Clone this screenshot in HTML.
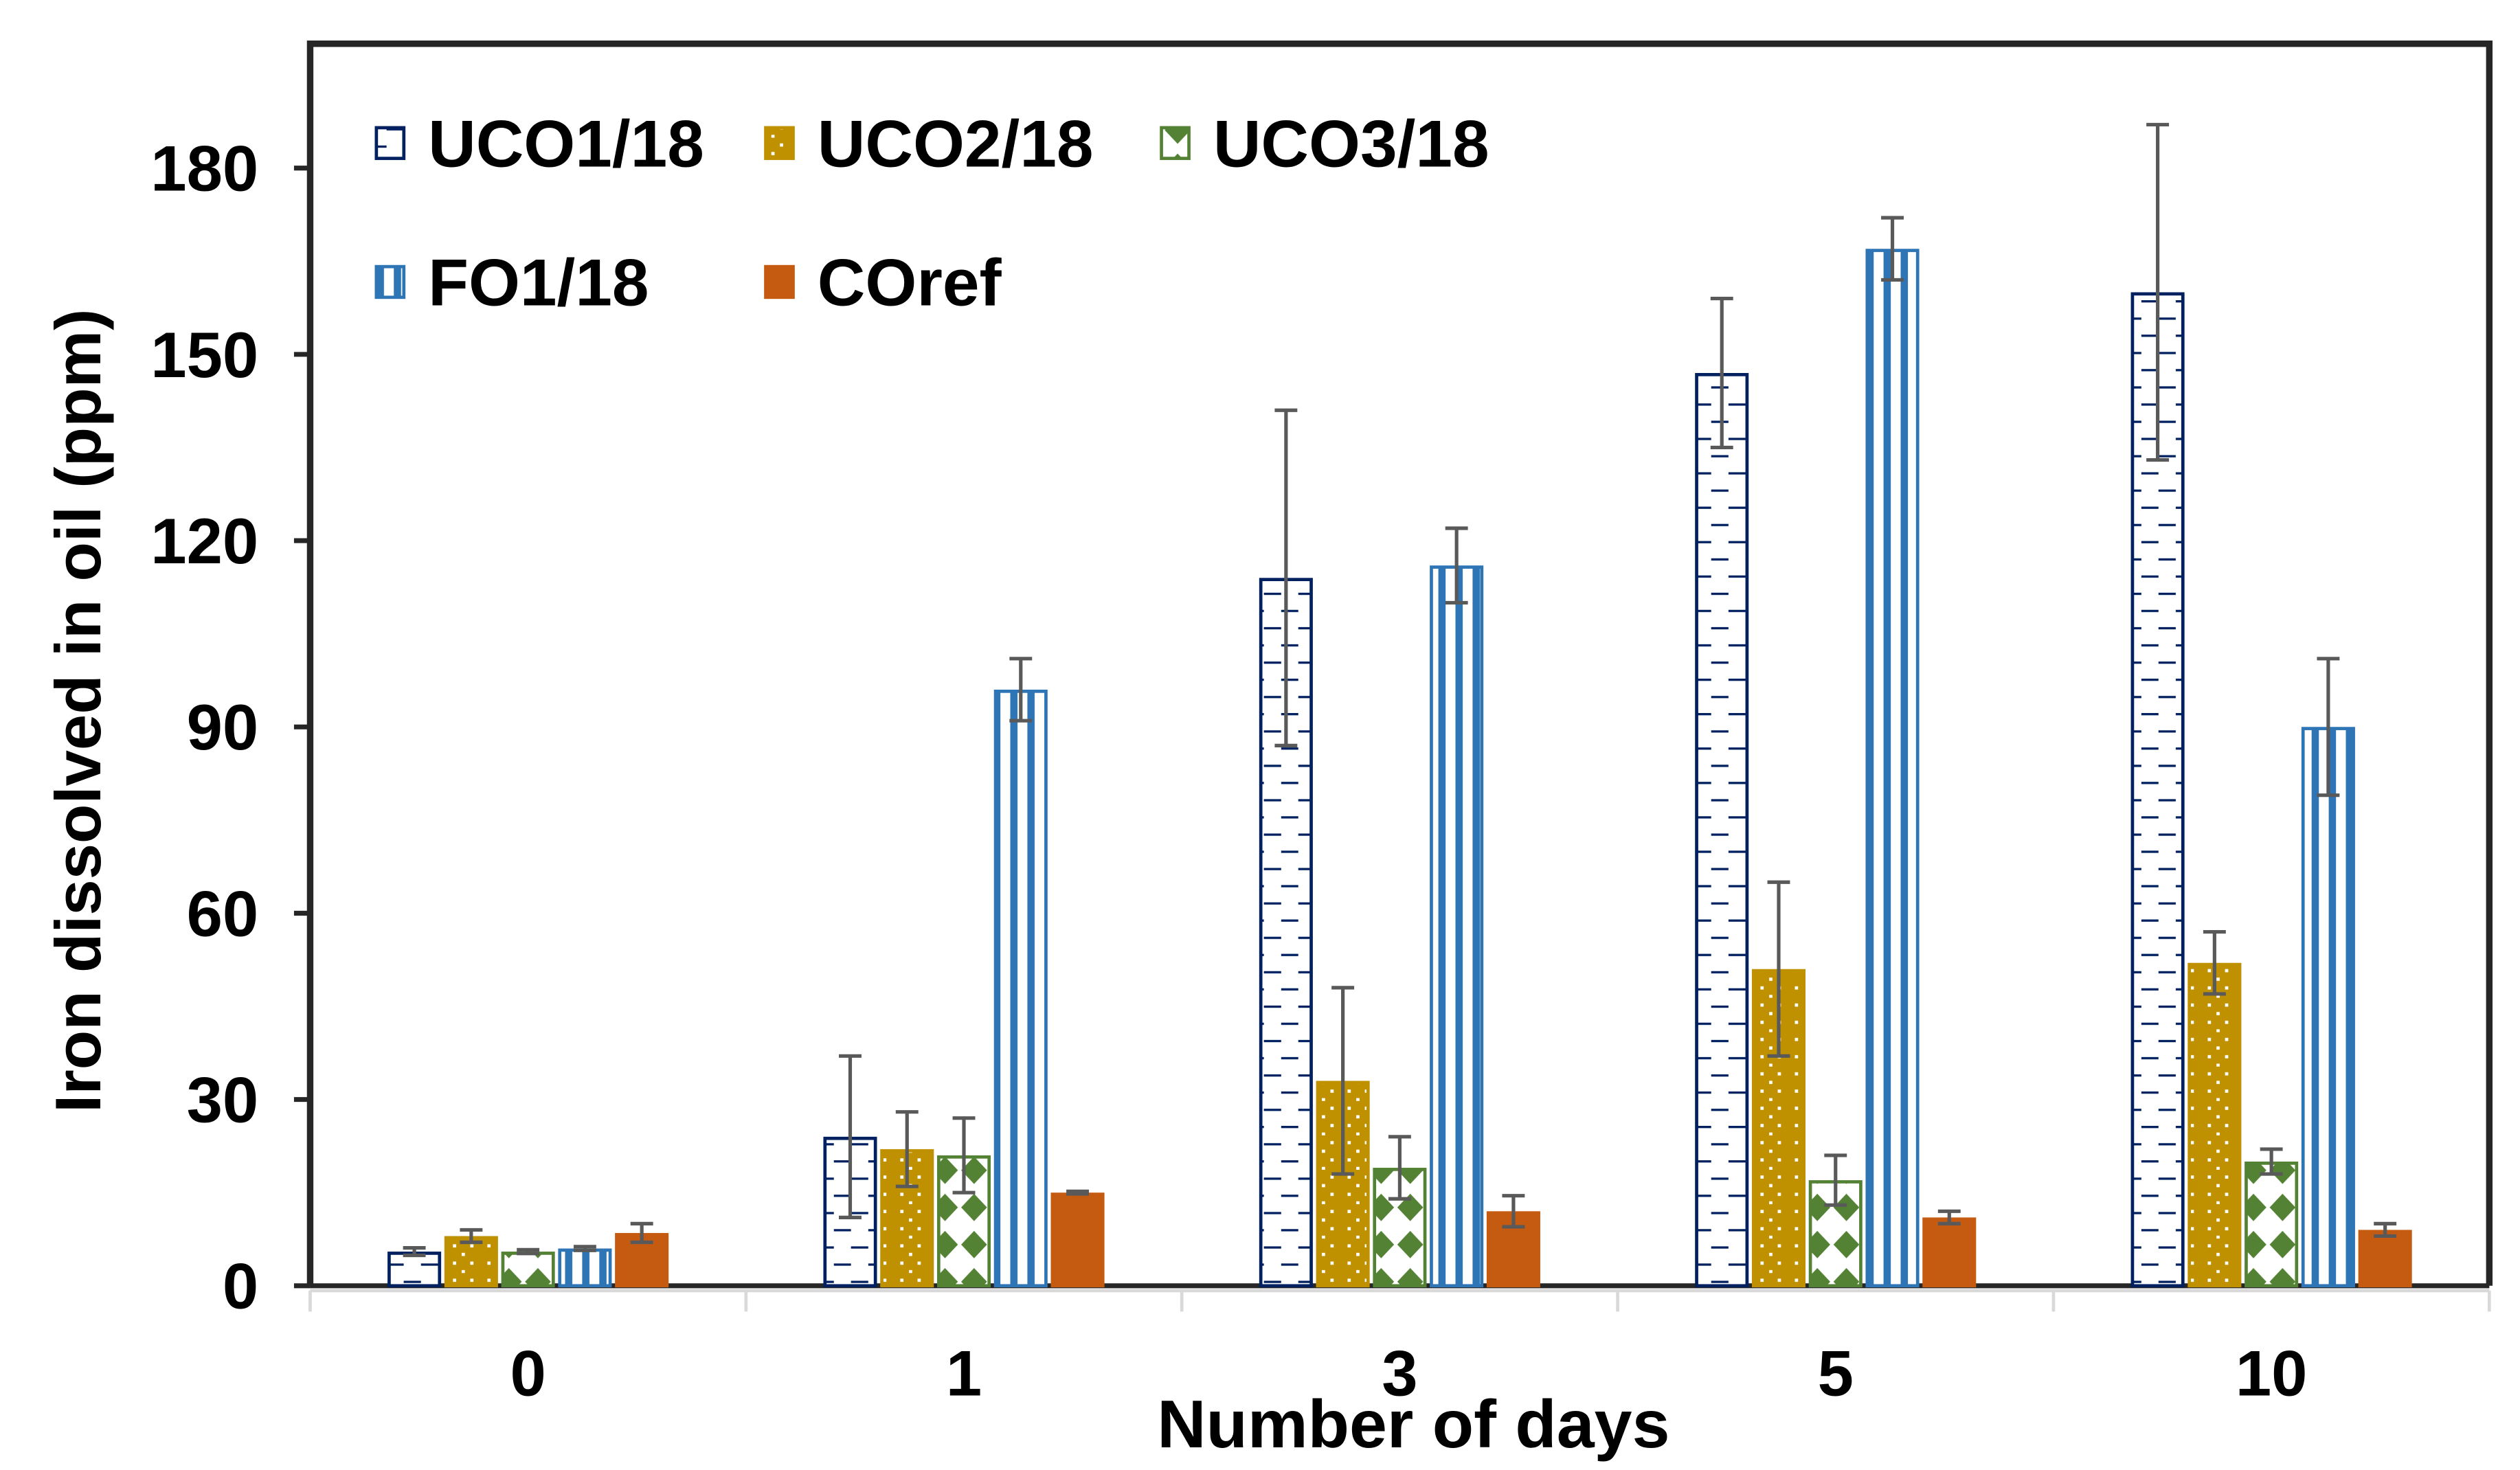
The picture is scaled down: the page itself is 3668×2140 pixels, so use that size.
<!DOCTYPE html>
<html><head><meta charset="utf-8"><style>
html,body{margin:0;padding:0;background:#fff;}
svg{display:block;font-family:"Liberation Sans",Arial,sans-serif;font-weight:bold;}
</style></head><body>
<svg id="chart" width="3668" height="2140" viewBox="0 0 1560 910" xmlns="http://www.w3.org/2000/svg">
<defs>
<pattern id="pDash" patternUnits="userSpaceOnUse" width="21.3" height="21.3">
<rect width="21.3" height="21.3" fill="#fff"/>
<rect x="0" y="4.8" width="5" height="1.4" fill="#002060"/>
<rect x="15.6" y="4.8" width="6" height="1.4" fill="#002060"/>
<rect x="5" y="15.4" width="10.6" height="1.4" fill="#002060"/>
</pattern>
<pattern id="pDots" patternUnits="userSpaceOnUse" width="21.3" height="21.3">
<rect width="21.3" height="21.3" fill="#BF9000"/>
<rect x="3.5" y="3.5" width="2" height="2" fill="#fff"/>
<rect x="14.2" y="3.5" width="2" height="2" fill="#fff"/>
<rect x="8.9" y="8.8" width="2" height="2" fill="#fff"/>
<rect x="3.5" y="14.2" width="2" height="2" fill="#fff"/>
<rect x="14.2" y="14.2" width="2" height="2" fill="#fff"/>
<rect x="8.9" y="19.5" width="2" height="2" fill="#fff"/>
</pattern>
<pattern id="pDiam" patternUnits="userSpaceOnUse" width="18" height="23">
<rect width="18" height="23" fill="#fff"/>
<polygon points="9,3 17,11.5 9,20 1,11.5" fill="#548235"/>
</pattern>
<pattern id="pStripe" patternUnits="userSpaceOnUse" width="10.6" height="10">
<rect width="10.6" height="10" fill="#fff"/>
<rect x="0" y="0" width="4.5" height="10" fill="#2E75B6"/>
</pattern>
</defs>
<g id="axes"></g>
<g id="bars"></g>
<g id="errs"></g>
<g id="legend"></g>
<text transform="translate(62,440) rotate(-90)" text-anchor="middle" font-size="40" fill="#000">Iron dissolved in oil (ppm)</text>
<text x="875" y="896" text-anchor="middle" font-size="42" fill="#000">Number of days</text>
</svg>
<script>
const categories = ["0","1","3","5","10"];
const seriesNames = ["UCO1/18","UCO2/18","UCO3/18","FO1/18","COref"];
const uco1 = [5.5,24,114,147,160];
const uco2 = [8,22,33,51,52];
const uco3 = [5.5,21,19,17,20];
const fo1 = [6,96,116,167,90];
const coref = [8.5,15,12,11,9];
const uco1Err = [0.6,13,27,12,27];
const uco2Err = [1,6,15,14,5];
const uco3Err = [0.3,6,5,4,2];
const fo1Err = [0.3,5,6,5,11];
const corefErr = [1.5,0.2,2.5,1,1];
const yTicks = [0,30,60,90,120,150,180];

const NS="http://www.w3.org/2000/svg";
const X0=192,X1=1541,Y0=796,YTOP=27,YMAX=180,PY180=104;
function yScale(v){return Y0-(v/YMAX)*(Y0-PY180);}
const catW=(X1-X0)/categories.length;
function catCenter(i){return X0+catW*(i+0.5);}
const barPitch=35.2,barW=33.2;
function barX(ci,si){return catCenter(ci)-barPitch*2.5+si*barPitch+(barPitch-barW)/2;}
function mk(tag,attrs,parent){const e=document.createElementNS(NS,tag);for(const k in attrs)e.setAttribute(k,attrs[k]);parent.appendChild(e);return e;}

const axes=document.getElementById('axes');
let xl=mk('line',{x1:X0,y1:Y0+3,x2:X1,y2:Y0+3,stroke:'#d9d9d9','stroke-width':2},axes);


for(let i=0;i<=categories.length;i++){
 const t=mk('line',{x1:X0+catW*i,y1:Y0+3,x2:X0+catW*i,y2:Y0+16,stroke:'#d9d9d9','stroke-width':2},axes);
 
 
}
categories.forEach((c,i)=>{
 const t=mk('text',{x:catCenter(i),y:864,'text-anchor':'middle','font-size':40,fill:'#000'},axes);
 t.textContent=c;
 
 
});
yTicks.forEach(v=>{
 const y=yScale(v);
 const t=mk('line',{x1:182,y1:y,x2:X0,y2:y,stroke:'#262626','stroke-width':3},axes);
 
 
 const l=mk('text',{x:160,y:y+14,'text-anchor':'end','font-size':40,fill:'#000'},axes);
 l.textContent=v;
 
 
});

const vals=[uco1,uco2,uco3,fo1,coref];
const errs=[uco1Err,uco2Err,uco3Err,fo1Err,corefErr];
const fills=['url(#pDash)','url(#pDots)','url(#pDiam)','url(#pStripe)','#C55A11'];
const strokes=['#002060','#BF9000','#548235','#2E75B6','#C55A11'];
const bars=document.getElementById('bars'),eg=document.getElementById('errs');
vals.forEach((arr,si)=>{
 arr.forEach((v,ci)=>{
  const x=barX(ci,si),y=yScale(v);
  const r=mk('rect',{x:x+1,y:y+1,width:barW-2,height:Math.max(0,Y0-y-1),fill:fills[si],stroke:strokes[si],'stroke-width':2},bars);
  
  
  const cx=x+barW/2,e=errs[si][ci],yt=yScale(v+e),yb=yScale(v-e);
  const g=mk('path',{d:`M${cx},${yt}V${yb}M${cx-7},${yt}H${cx+7}M${cx-7},${yb}H${cx+7}`,stroke:'#595959','stroke-width':2.2,fill:'none'},eg);
  
  
 });
});
const fr=mk('path',{d:`M${X0},${Y0}V${YTOP}H${X1}V${Y0}`,stroke:'#262626','stroke-width':4,fill:'none'},axes);


const bl=mk('line',{x1:X0,y1:Y0,x2:X1,y2:Y0,stroke:'#262626','stroke-width':3},axes);



const lg=document.getElementById('legend');
const legPos=[[232,88],[473,88],[718,88],[232,174],[473,174]];
seriesNames.forEach((n,si)=>{
 const [x,y]=legPos[si];
 const g=mk('g',{},lg);
 
 
 mk('rect',{x:x+1,y:y-9,width:17,height:19,fill:fills[si],stroke:strokes[si],'stroke-width':2},g);
 const t=mk('text',{x:x+33,y:y+15,'font-size':41,fill:'#000'},g);
 t.textContent=n;
});
</script>
</body></html>
